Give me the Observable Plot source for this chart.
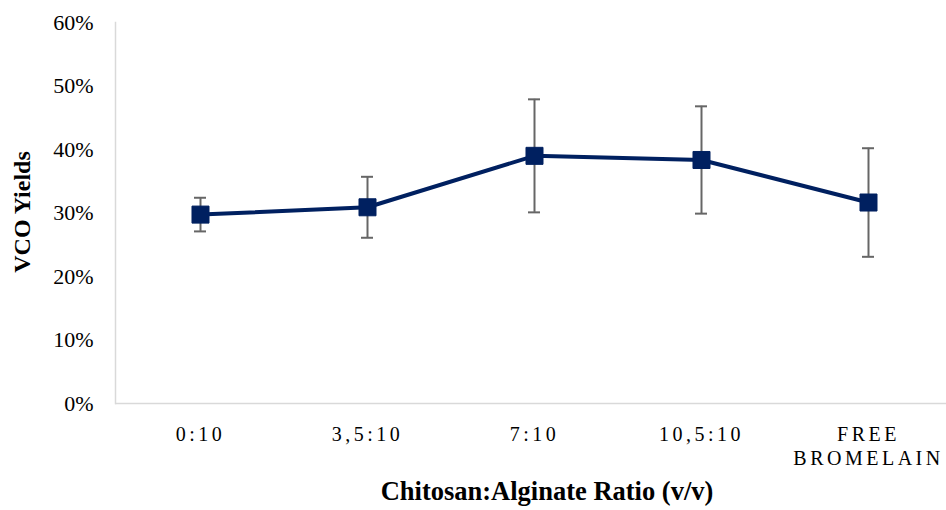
<!DOCTYPE html>
<html><head><meta charset="utf-8">
<script src="https://cdn.jsdelivr.net/npm/d3@7"></script>
<script src="https://cdn.jsdelivr.net/npm/@observablehq/plot@0.6"></script>
<style>
html,body{margin:0;padding:0;background:#fff;}
#chart svg{display:block;}
g[aria-label="x-axis tick label"]{letter-spacing:3.5px;}
</style></head><body><div id="chart"></div>
<script>
const categories = ["0:10", "3,5:10", "7:10", "10,5:10", "FREE BROMELAIN"];
const yields = [29.75, 30.9, 39.0, 38.35, 31.65];
const errors = [2.65, 4.8, 8.9, 8.45, 8.55];
const yTicks = [0, 10, 20, 30, 40, 50, 60];
const xTitle = "Chitosan:Alginate Ratio (v/v)";
const yTitle = "VCO Yields";

const data = categories.map((c, i) => ({c, v: yields[i], lo: yields[i] - errors[i], hi: yields[i] + errors[i]}));
const navy = "#002060";
const font = "Liberation Serif, Times New Roman, serif";

const chart = Plot.plot({
  width: 946,
  height: 510,
  marginLeft: 115,
  marginRight: 0,
  marginTop: 22,
  marginBottom: 107,
  style: {fontFamily: font, background: "#fff", color: "#000"},
  x: {type: "band", domain: categories, range: [114, 953], paddingInner: 0.9286, paddingOuter: 0.4643, align: 0.5},
  y: {domain: [0, 60]},
  marks: [
    Plot.frame({anchor: "left", stroke: "#d9d9d9", strokeWidth: 1.5}),
    Plot.ruleY([0], {stroke: "#d9d9d9", strokeWidth: 1.5}),
    Plot.axisY({ticks: yTicks, tickSize: 0, tickPadding: 22, fontSize: 22, tickFormat: d => d + "%", label: null, fill: "#000"}),
    Plot.axisX({tickSize: 0, tickPadding: 20, fontSize: 20, lineHeight: 1.2, tickFormat: d => d.replace(" ", "\n"), label: null, fill: "#000"}),
    Plot.ruleX(data, {x: "c", y1: "lo", y2: "hi", stroke: "#666", strokeWidth: 2}),
    Plot.tickY(data, {x: "c", y: "lo", stroke: "#666", strokeWidth: 2}),
    Plot.tickY(data, {x: "c", y: "hi", stroke: "#666", strokeWidth: 2}),
    Plot.line(data, {x: "c", y: "v", stroke: navy, strokeWidth: 4}),
    Plot.dot(data, {x: "c", y: "v", symbol: "square", r: 9.6, fill: navy, stroke: navy, strokeWidth: 1, strokeLinejoin: "round"}),
    Plot.text([yTitle], {frameAnchor: "left", textAnchor: "middle", dx: -93, dy: -1, rotate: -90, fontSize: 24, fontWeight: "bold", fill: "#000"}),
    Plot.text([xTitle], {frameAnchor: "bottom", textAnchor: "middle", dx: 16, dy: 96, fontSize: 26.5, fontWeight: "bold", fill: "#000"})
  ]
});
document.getElementById("chart").appendChild(chart);
</script></body></html>
